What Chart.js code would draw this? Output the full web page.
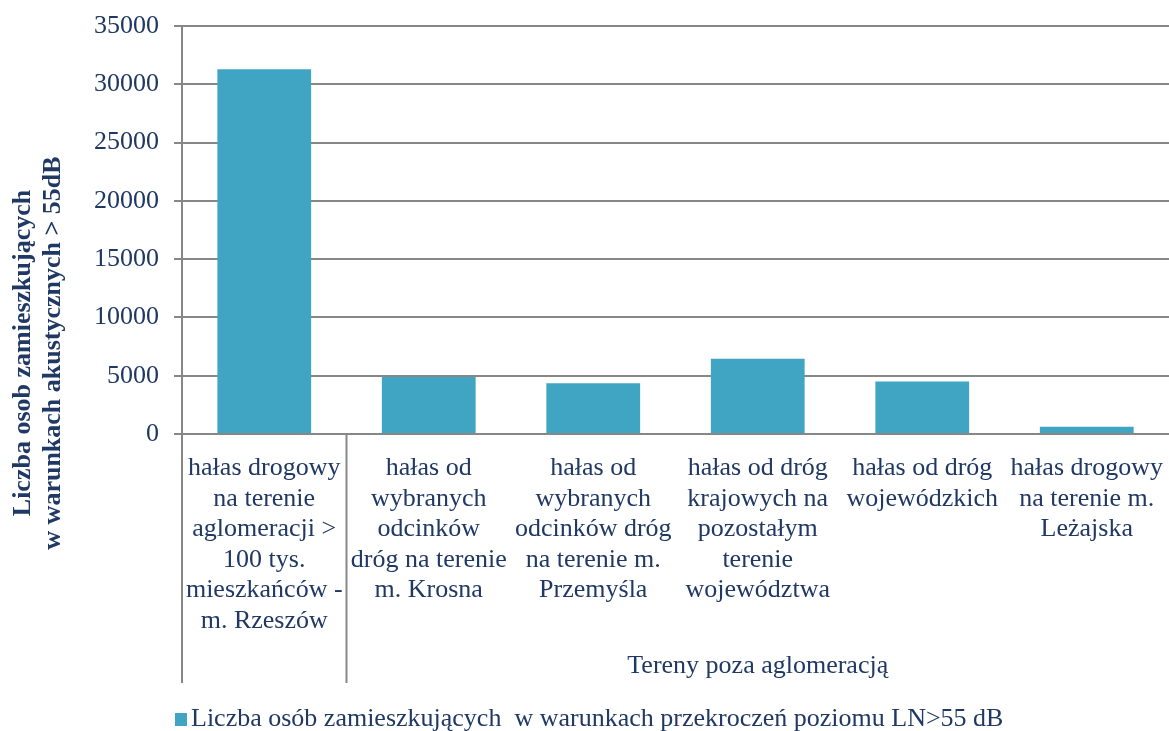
<!DOCTYPE html>
<html>
<head>
<meta charset="utf-8">
<script src="https://cdn.jsdelivr.net/npm/chart.js@4"></script>
<style>
  html, body { margin: 0; padding: 0; background: #fff; }
  #wrap { width: 1169px; height: 731px; position: relative; }
</style>
</head>
<body>
<div id="wrap"><canvas id="chart"></canvas></div>
<script>
// categories (multi-line, as wrapped in the source chart)
const categories = [
  ['hałas drogowy', 'na terenie', 'aglomeracji >', '100 tys.', 'mieszkańców -', 'm. Rzeszów'],
  ['hałas od', 'wybranych', 'odcinków', 'dróg na terenie', 'm. Krosna'],
  ['hałas od', 'wybranych', 'odcinków dróg', 'na terenie m.', 'Przemyśla'],
  ['hałas od dróg', 'krajowych na', 'pozostałym', 'terenie', 'województwa'],
  ['hałas od dróg', 'wojewódzkich'],
  ['hałas drogowy', 'na terenie m.', 'Leżajska']
];
const residents = [31300, 4900, 4350, 6450, 4500, 620];
const seriesLabel = 'Liczba osób zamieszkujących  w warunkach przekroczeń poziomu LN>55 dB';
const groupLabel = 'Tereny poza aglomeracją';
const yTitle = ['Liczba osob zamieszkujących', 'w warunkach akustycznych > 55dB'];
const yMax = 35000;
const yStep = 5000;

const NAVY = '#1F3864';
const GRID = '#878787';
const BAR = '#40A5C3';
const FONT = "'Liberation Serif', 'Times New Roman', serif";

// multi-level axis bits, y title and legend drawn on top
const extras = {
  id: 'extras',
  afterDraw(chart) {
    const { ctx, chartArea } = chart;
    const x = chart.scales.x;
    const split = (x.getPixelForValue(0) + x.getPixelForValue(1)) / 2;

    ctx.save();
    ctx.strokeStyle = GRID;
    ctx.lineWidth = 2;
    ctx.beginPath();
    ctx.moveTo(chartArea.left, chartArea.bottom);
    ctx.lineTo(chartArea.left, 683);
    ctx.moveTo(split, chartArea.bottom);
    ctx.lineTo(split, 683);
    ctx.stroke();

    ctx.fillStyle = NAVY;
    ctx.font = '26px ' + FONT;
    ctx.textAlign = 'center';
    ctx.textBaseline = 'middle';
    ctx.fillText(groupLabel, (split + chartArea.right) / 2, 666);

    // y axis title
    ctx.font = 'bold 26px ' + FONT;
    yTitle.forEach((line, i) => {
      ctx.save();
      ctx.translate(23 + i * 30, 353);
      ctx.rotate(-Math.PI / 2);
      ctx.fillText(line, 0, 0);
      ctx.restore();
    });

    // legend
    ctx.fillStyle = BAR;
    ctx.fillRect(175, 713, 12, 13);
    ctx.fillStyle = NAVY;
    ctx.font = '26px ' + FONT;
    ctx.textAlign = 'left';
    ctx.fillText(seriesLabel, 191, 719);
    ctx.restore();
  }
};

new Chart(document.getElementById('chart'), {
  type: 'bar',
  data: {
    labels: categories,
    datasets: [{
      label: seriesLabel,
      data: residents,
      backgroundColor: BAR,
      borderWidth: 0,
      categoryPercentage: 1,
      barPercentage: 0.57
    }]
  },
  options: {
    responsive: true,
    maintainAspectRatio: false,
    animation: false,
    layout: { padding: { top: 26, right: 0, left: 0, bottom: 0 } },
    plugins: {
      legend: { display: false },
      tooltip: { enabled: false }
    },
    scales: {
      x: {
        grid: { display: false },
        border: { display: false },
        ticks: {
          color: NAVY,
          padding: 11,
          maxRotation: 0,
          autoSkip: false,
          font: { family: FONT, size: 26, lineHeight: 1.173 }
        },
        afterFit: s => { s.height = 297; s.paddingLeft = 0; s.paddingRight = 0; }
      },
      y: {
        min: 0, max: yMax,
        grid: { color: GRID, lineWidth: 2, tickLength: 8 },
        border: { color: GRID, width: 2 },
        ticks: {
          stepSize: yStep,
          color: NAVY,
          padding: 15,
          font: { family: FONT, size: 26 },
          callback: v => String(v)
        },
        afterFit: s => { s.width = 182; s.paddingTop = 0; s.paddingBottom = 0; }
      }
    }
  },
  plugins: [extras]
});
</script>
</body>
</html>
